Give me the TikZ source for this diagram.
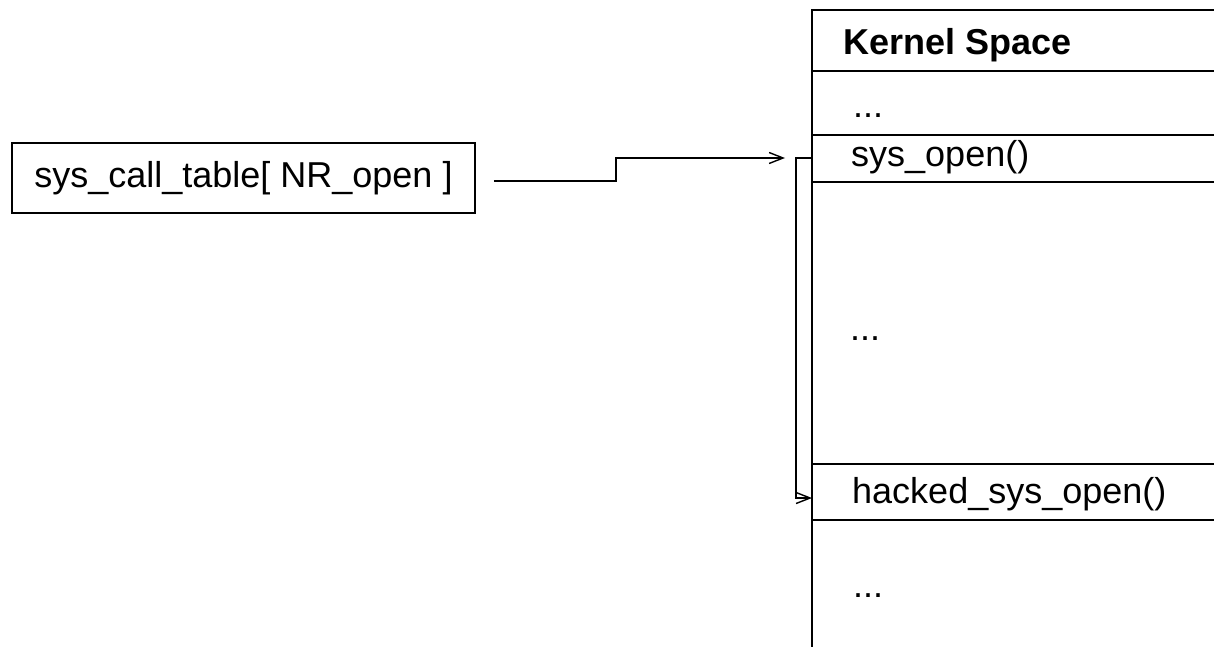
\documentclass[tikz,border=0pt]{standalone}
\usepackage{fontspec}
\setmainfont{Liberation Sans}
\usetikzlibrary{arrows.meta}
\tikzset{
  ln/.style={line width=1.8pt, black},
  rowbox/.style={ln},
  lbl/.style={anchor=base west, inner sep=0pt, font=\fontsize{36}{43}\selectfont},
  conn/.style={ln, -{Straight Barb[length=14pt,width=11pt,line width=1.4pt]}},
}
\begin{document}
\begin{tikzpicture}[x=1pt,y=-1pt]
\useasboundingbox (0,0) rectangle (1214,647);
\clip (0,0) rectangle (1214,647);
% kernel space column rows
\draw[rowbox] (812,10) rectangle (1240,71);
\draw[rowbox] (812,71) rectangle (1240,135);
\draw[rowbox] (812,135) rectangle (1240,182);
\draw[rowbox] (812,182) rectangle (1240,464);
\draw[rowbox] (812,464) rectangle (1240,520);
\draw[rowbox] (812,520) rectangle (1240,680);
\node[lbl, font=\fontsize{36}{43}\selectfont\bfseries] (ks) at (843,55) {Kernel Space};
\node[lbl] (d1) at (853,118) {...};
\node[lbl] (so) at (851,167) {sys\_open()};
\node[lbl] (d2) at (850,340) {...};
\node[lbl] (hso) at (852,503) {hacked\_sys\_open()};
\node[lbl] (d3) at (853,597) {...};
\coordinate (soW) at (812,158);
\coordinate (hsoW) at (812,498);
% table box
\node[draw, ln, minimum width=463pt, minimum height=70pt, inner sep=0pt,
      font=\fontsize{36}{43}\selectfont] (tab) at (243.5,178) {sys\_call\_table[ NR\_open ]};
\coordinate (tabOut) at ([xshift=18pt,yshift=-3pt]tab.east);
\coordinate (tip1) at (785,158);
% connectors
\draw[conn] (tabOut) -- (616,181) -- (616,158) -- (tip1);
\draw[conn] (soW) -- (796,158) -- (796,498) -- (hsoW);
\end{tikzpicture}
\end{document}
